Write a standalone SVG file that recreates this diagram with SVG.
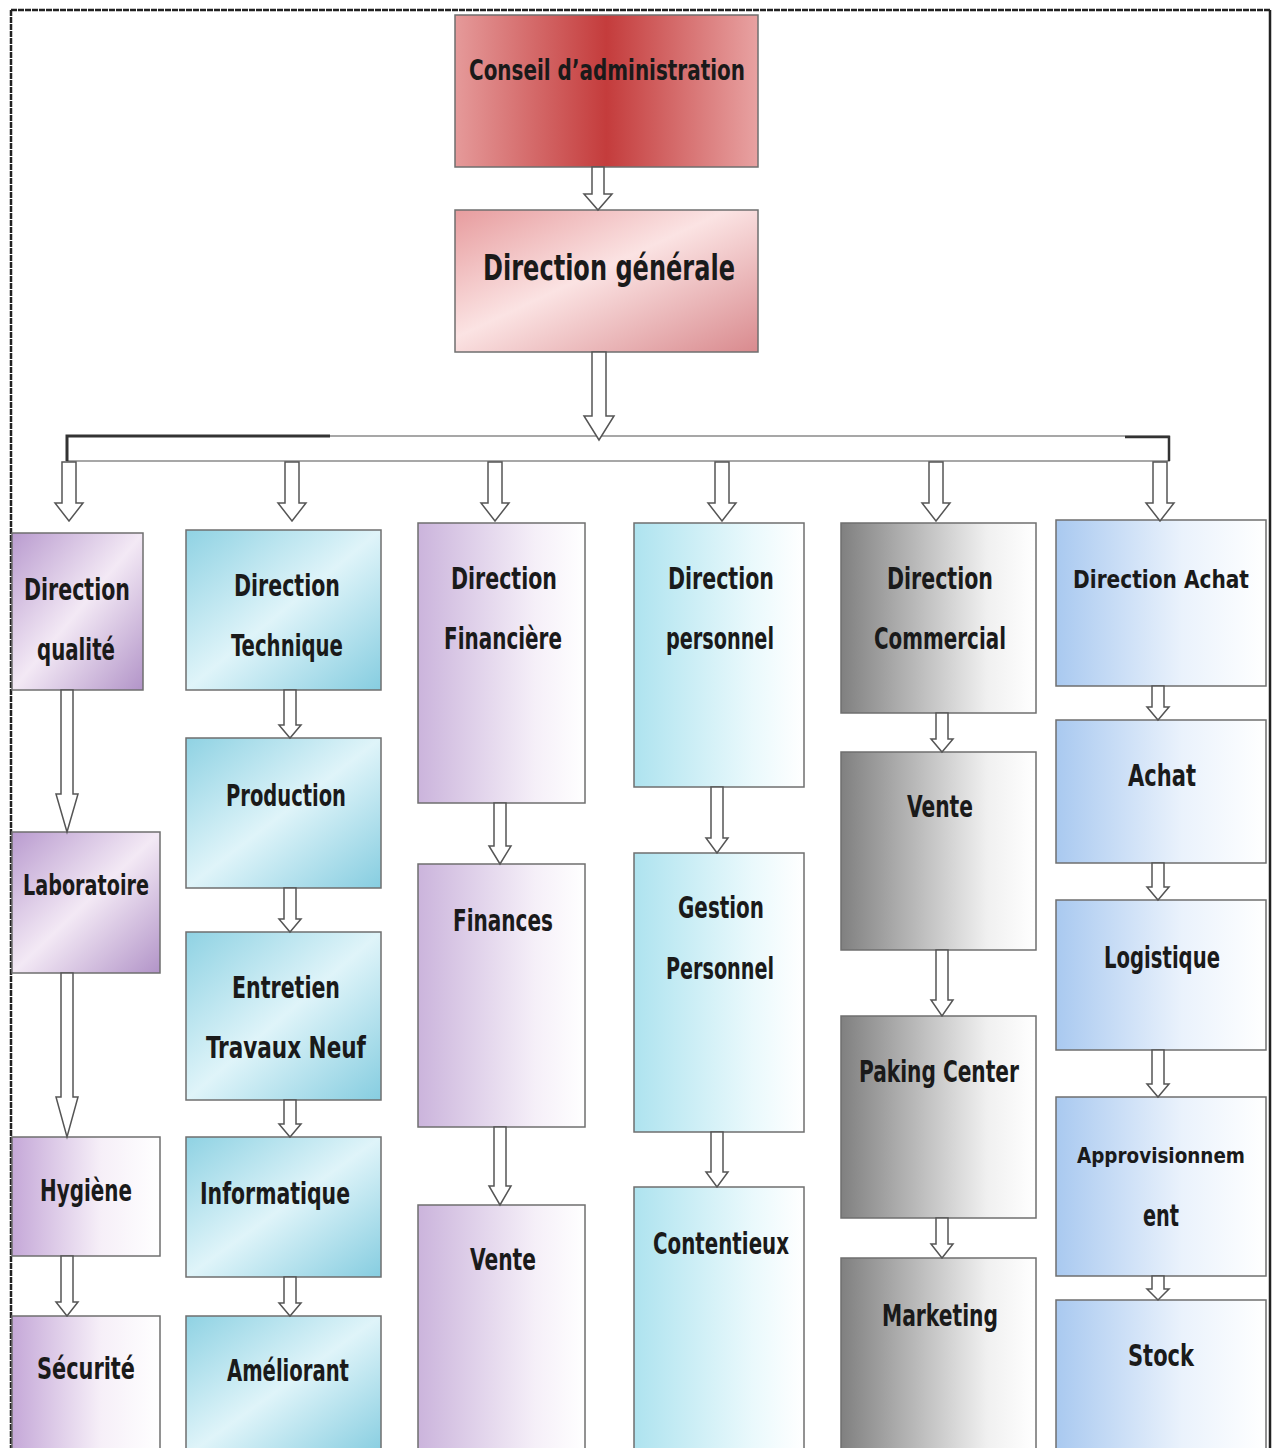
<svg xmlns="http://www.w3.org/2000/svg" width="1274" height="1448" viewBox="0 0 1274 1448">
<defs>
<linearGradient id="gRed" x1="0" y1="0" x2="1" y2="0">
<stop offset="0" stop-color="#e59a9a"/><stop offset="0.5" stop-color="#c43c3c"/><stop offset="1" stop-color="#e8a2a2"/>
</linearGradient>
<linearGradient id="gPink" x1="0" y1="0" x2="1" y2="1">
<stop offset="0" stop-color="#e79c9e"/><stop offset="0.45" stop-color="#fbe3e3"/><stop offset="1" stop-color="#d98a8e"/>
</linearGradient>
<linearGradient id="gPurple" x1="0" y1="0" x2="1" y2="1">
<stop offset="0" stop-color="#b99bcf"/><stop offset="0.5" stop-color="#f3e9f5"/><stop offset="1" stop-color="#b294c8"/>
</linearGradient>
<linearGradient id="gPurpleH" x1="0" y1="0" x2="1" y2="0">
<stop offset="0" stop-color="#c5a8d8"/><stop offset="0.6" stop-color="#f6eff8"/><stop offset="1" stop-color="#ffffff"/>
</linearGradient>
<linearGradient id="gCyan" x1="0" y1="0" x2="1" y2="1">
<stop offset="0" stop-color="#8fd2e3"/><stop offset="0.5" stop-color="#dff4f9"/><stop offset="1" stop-color="#86cde0"/>
</linearGradient>
<linearGradient id="gLav" x1="0" y1="0" x2="1" y2="0">
<stop offset="0" stop-color="#cbb4dc"/><stop offset="0.7" stop-color="#f5eff8"/><stop offset="1" stop-color="#ffffff"/>
</linearGradient>
<linearGradient id="gLCyan" x1="0" y1="0" x2="1" y2="0">
<stop offset="0" stop-color="#aee3ef"/><stop offset="0.7" stop-color="#eaf9fc"/><stop offset="1" stop-color="#ffffff"/>
</linearGradient>
<linearGradient id="gGray" x1="0" y1="0" x2="1" y2="0">
<stop offset="0" stop-color="#808080"/><stop offset="0.75" stop-color="#f0f0f0"/><stop offset="1" stop-color="#ffffff"/>
</linearGradient>
<linearGradient id="gBlue" x1="0" y1="0" x2="1" y2="0">
<stop offset="0" stop-color="#a9c9f0"/><stop offset="0.6" stop-color="#eaf2fc"/><stop offset="1" stop-color="#ffffff"/>
</linearGradient>
<style>
.box{stroke:#6f6f6f;stroke-width:1.5}
.t{font-family:"DejaVu Sans Condensed","Liberation Sans Narrow","Liberation Sans",sans-serif;font-weight:bold;fill:#1a1a1a;text-anchor:middle}
.arr{fill:#ffffff;stroke:#555;stroke-width:1.5;stroke-linejoin:miter}
</style>
</defs>
<rect width="1274" height="1448" fill="#ffffff"/>
<g id="frame" fill="none" stroke="#222">
<line x1="11" y1="10" x2="1270" y2="10" stroke-width="2.5" stroke-dasharray="6 1"/>
<line x1="11" y1="10" x2="11" y2="1448" stroke-width="2.5" stroke-dasharray="6 1"/>
<line x1="1270" y1="10" x2="1270" y2="1448" stroke-width="2.5"/>
</g>

<g id="n-conseil"><rect class="box" x="455" y="15" width="303" height="152" fill="url(#gRed)"/><text class="t" x="607" y="80" font-size="29" textLength="276" lengthAdjust="spacingAndGlyphs">Conseil d’administration</text></g>
<g id="n-dg"><rect class="box" x="455" y="210" width="303" height="142" fill="url(#gPink)"/><text class="t" x="609" y="280" font-size="36" textLength="252" lengthAdjust="spacingAndGlyphs">Direction générale</text></g>

<g id="n-dq"><rect class="box" x="12" y="533" width="131" height="157" fill="url(#gPurple)"/><text class="t" x="77" y="600" font-size="30" textLength="106" lengthAdjust="spacingAndGlyphs">Direction</text><text class="t" x="76" y="660" font-size="30" textLength="78" lengthAdjust="spacingAndGlyphs">qualité</text></g>
<g id="n-labo"><rect class="box" x="12" y="832" width="148" height="141" fill="url(#gPurple)"/><text class="t" x="86" y="895" font-size="28" textLength="126" lengthAdjust="spacingAndGlyphs">Laboratoire</text></g>
<g id="n-hyg"><rect class="box" x="12" y="1137" width="148" height="119" fill="url(#gPurpleH)"/><text class="t" x="86" y="1201" font-size="30" textLength="92" lengthAdjust="spacingAndGlyphs">Hygiène</text></g>
<g id="n-sec"><rect class="box" x="12" y="1316" width="148" height="140" fill="url(#gPurpleH)"/><text class="t" x="86" y="1379" font-size="30" textLength="98" lengthAdjust="spacingAndGlyphs">Sécurité</text></g>

<g id="n-dt"><rect class="box" x="186" y="530" width="195" height="160" fill="url(#gCyan)"/><text class="t" x="287" y="596" font-size="30" textLength="106" lengthAdjust="spacingAndGlyphs">Direction</text><text class="t" x="287" y="656" font-size="30" textLength="112" lengthAdjust="spacingAndGlyphs">Technique</text></g>
<g id="n-prod"><rect class="box" x="186" y="738" width="195" height="150" fill="url(#gCyan)"/><text class="t" x="286" y="806" font-size="30" textLength="120" lengthAdjust="spacingAndGlyphs">Production</text></g>
<g id="n-ent"><rect class="box" x="186" y="932" width="195" height="168" fill="url(#gCyan)"/><text class="t" x="286" y="998" font-size="30" textLength="108" lengthAdjust="spacingAndGlyphs">Entretien</text><text class="t" x="286" y="1058" font-size="30" textLength="160" lengthAdjust="spacingAndGlyphs">Travaux Neuf</text></g>
<g id="n-info"><rect class="box" x="186" y="1137" width="195" height="140" fill="url(#gCyan)"/><text class="t" x="275" y="1204" font-size="30" textLength="150" lengthAdjust="spacingAndGlyphs">Informatique</text></g>
<g id="n-amel"><rect class="box" x="186" y="1316" width="195" height="140" fill="url(#gCyan)"/><text class="t" x="288" y="1381" font-size="30" textLength="122" lengthAdjust="spacingAndGlyphs">Améliorant</text></g>

<g id="n-df"><rect class="box" x="418" y="523" width="167" height="280" fill="url(#gLav)"/><text class="t" x="504" y="589" font-size="30" textLength="106" lengthAdjust="spacingAndGlyphs">Direction</text><text class="t" x="503" y="649" font-size="30" textLength="118" lengthAdjust="spacingAndGlyphs">Financière</text></g>
<g id="n-fin"><rect class="box" x="418" y="864" width="167" height="263" fill="url(#gLav)"/><text class="t" x="503" y="931" font-size="30" textLength="100" lengthAdjust="spacingAndGlyphs">Finances</text></g>
<g id="n-vente1"><rect class="box" x="418" y="1205" width="167" height="251" fill="url(#gLav)"/><text class="t" x="503" y="1270" font-size="30" textLength="66" lengthAdjust="spacingAndGlyphs">Vente</text></g>

<g id="n-dp"><rect class="box" x="634" y="523" width="170" height="264" fill="url(#gLCyan)"/><text class="t" x="721" y="589" font-size="30" textLength="106" lengthAdjust="spacingAndGlyphs">Direction</text><text class="t" x="720" y="649" font-size="30" textLength="108" lengthAdjust="spacingAndGlyphs">personnel</text></g>
<g id="n-gp"><rect class="box" x="634" y="853" width="170" height="279" fill="url(#gLCyan)"/><text class="t" x="721" y="918" font-size="30" textLength="86" lengthAdjust="spacingAndGlyphs">Gestion</text><text class="t" x="720" y="979" font-size="30" textLength="108" lengthAdjust="spacingAndGlyphs">Personnel</text></g>
<g id="n-cont"><rect class="box" x="634" y="1187" width="170" height="269" fill="url(#gLCyan)"/><text class="t" x="721" y="1254" font-size="30" textLength="136" lengthAdjust="spacingAndGlyphs">Contentieux</text></g>

<g id="n-dc"><rect class="box" x="841" y="523" width="195" height="190" fill="url(#gGray)"/><text class="t" x="940" y="589" font-size="30" textLength="106" lengthAdjust="spacingAndGlyphs">Direction</text><text class="t" x="940" y="649" font-size="30" textLength="132" lengthAdjust="spacingAndGlyphs">Commercial</text></g>
<g id="n-vente2"><rect class="box" x="841" y="752" width="195" height="198" fill="url(#gGray)"/><text class="t" x="940" y="817" font-size="30" textLength="66" lengthAdjust="spacingAndGlyphs">Vente</text></g>
<g id="n-pak"><rect class="box" x="841" y="1016" width="195" height="202" fill="url(#gGray)"/><text class="t" x="939" y="1082" font-size="30" textLength="160" lengthAdjust="spacingAndGlyphs">Paking Center</text></g>
<g id="n-mkt"><rect class="box" x="841" y="1258" width="195" height="198" fill="url(#gGray)"/><text class="t" x="940" y="1326" font-size="30" textLength="116" lengthAdjust="spacingAndGlyphs">Marketing</text></g>

<g id="n-da"><rect class="box" x="1056" y="520" width="210" height="166" fill="url(#gBlue)"/><text class="t" x="1161" y="588" font-size="25" textLength="176" lengthAdjust="spacingAndGlyphs">Direction Achat</text></g>
<g id="n-achat"><rect class="box" x="1056" y="720" width="210" height="143" fill="url(#gBlue)"/><text class="t" x="1162" y="786" font-size="30" textLength="68" lengthAdjust="spacingAndGlyphs">Achat</text></g>
<g id="n-log"><rect class="box" x="1056" y="900" width="210" height="150" fill="url(#gBlue)"/><text class="t" x="1162" y="968" font-size="30" textLength="116" lengthAdjust="spacingAndGlyphs">Logistique</text></g>
<g id="n-appro"><rect class="box" x="1056" y="1097" width="210" height="179" fill="url(#gBlue)"/><text class="t" x="1161" y="1163" font-size="22" textLength="168" lengthAdjust="spacingAndGlyphs">Approvisionnem</text><text class="t" x="1161" y="1226" font-size="30" textLength="36" lengthAdjust="spacingAndGlyphs">ent</text></g>
<g id="n-stock"><rect class="box" x="1056" y="1300" width="210" height="156" fill="url(#gBlue)"/><text class="t" x="1161" y="1366" font-size="30" textLength="66" lengthAdjust="spacingAndGlyphs">Stock</text></g>

<g id="connectors">
<rect x="67" y="436" width="1102" height="25" fill="#ffffff" stroke="#8a8a8a" stroke-width="1.5"/>
<path d="M67 461 V436 H330" fill="none" stroke="#333" stroke-width="3"/>
<path d="M1125 437 H1169 V461" fill="none" stroke="#333" stroke-width="2.5"/>
<path class="arr" d="M592 167 V194 H584 L598 210 L612 194 H604 V167 Z"/>
<path class="arr" d="M592 352 V416 H584 L599 440 L614 416 H606 V352 Z"/>
<path class="arr" d="M62 462 V503 H55 L69 521 L83 503 H76 V462 Z"/>
<path class="arr" d="M285 462 V503 H278 L292 521 L306 503 H299 V462 Z"/>
<path class="arr" d="M488 462 V503 H481 L495 521 L509 503 H502 V462 Z"/>
<path class="arr" d="M715 462 V503 H708 L722 521 L736 503 H729 V462 Z"/>
<path class="arr" d="M929 462 V503 H922 L936 521 L950 503 H943 V462 Z"/>
<path class="arr" d="M1153 462 V503 H1146 L1160 521 L1174 503 H1167 V462 Z"/>
<path class="arr" d="M61 690 V794 H56 L67 832 L78 794 H73 V690 Z"/>
<path class="arr" d="M61 973 V1097 H56 L67 1137 L78 1097 H73 V973 Z"/>
<path class="arr" d="M61 1256 V1302 H56 L67 1316 L78 1302 H73 V1256 Z"/>
<path class="arr" d="M284 690 V725 H279 L290 738 L301 725 H296 V690 Z"/>
<path class="arr" d="M284 888 V919 H279 L290 932 L301 919 H296 V888 Z"/>
<path class="arr" d="M284 1100 V1124 H279 L290 1137 L301 1124 H296 V1100 Z"/>
<path class="arr" d="M284 1277 V1303 H279 L290 1316 L301 1303 H296 V1277 Z"/>
<path class="arr" d="M494 803 V846 H489 L500 864 L511 846 H506 V803 Z"/>
<path class="arr" d="M494 1127 V1186 H489 L500 1205 L511 1186 H506 V1127 Z"/>
<path class="arr" d="M711 787 V838 H706 L717 853 L728 838 H723 V787 Z"/>
<path class="arr" d="M711 1132 V1172 H706 L717 1187 L728 1172 H723 V1132 Z"/>
<path class="arr" d="M936 713 V739 H931 L942 752 L953 739 H948 V713 Z"/>
<path class="arr" d="M936 950 V1000 H931 L942 1016 L953 1000 H948 V950 Z"/>
<path class="arr" d="M936 1218 V1244 H931 L942 1258 L953 1244 H948 V1218 Z"/>
<path class="arr" d="M1152 686 V707 H1147 L1158 720 L1169 707 H1164 V686 Z"/>
<path class="arr" d="M1152 863 V887 H1147 L1158 900 L1169 887 H1164 V863 Z"/>
<path class="arr" d="M1152 1050 V1084 H1147 L1158 1097 L1169 1084 H1164 V1050 Z"/>
<path class="arr" d="M1152 1276 V1289 H1147 L1158 1300 L1169 1289 H1164 V1276 Z"/>
</g>
</svg>
